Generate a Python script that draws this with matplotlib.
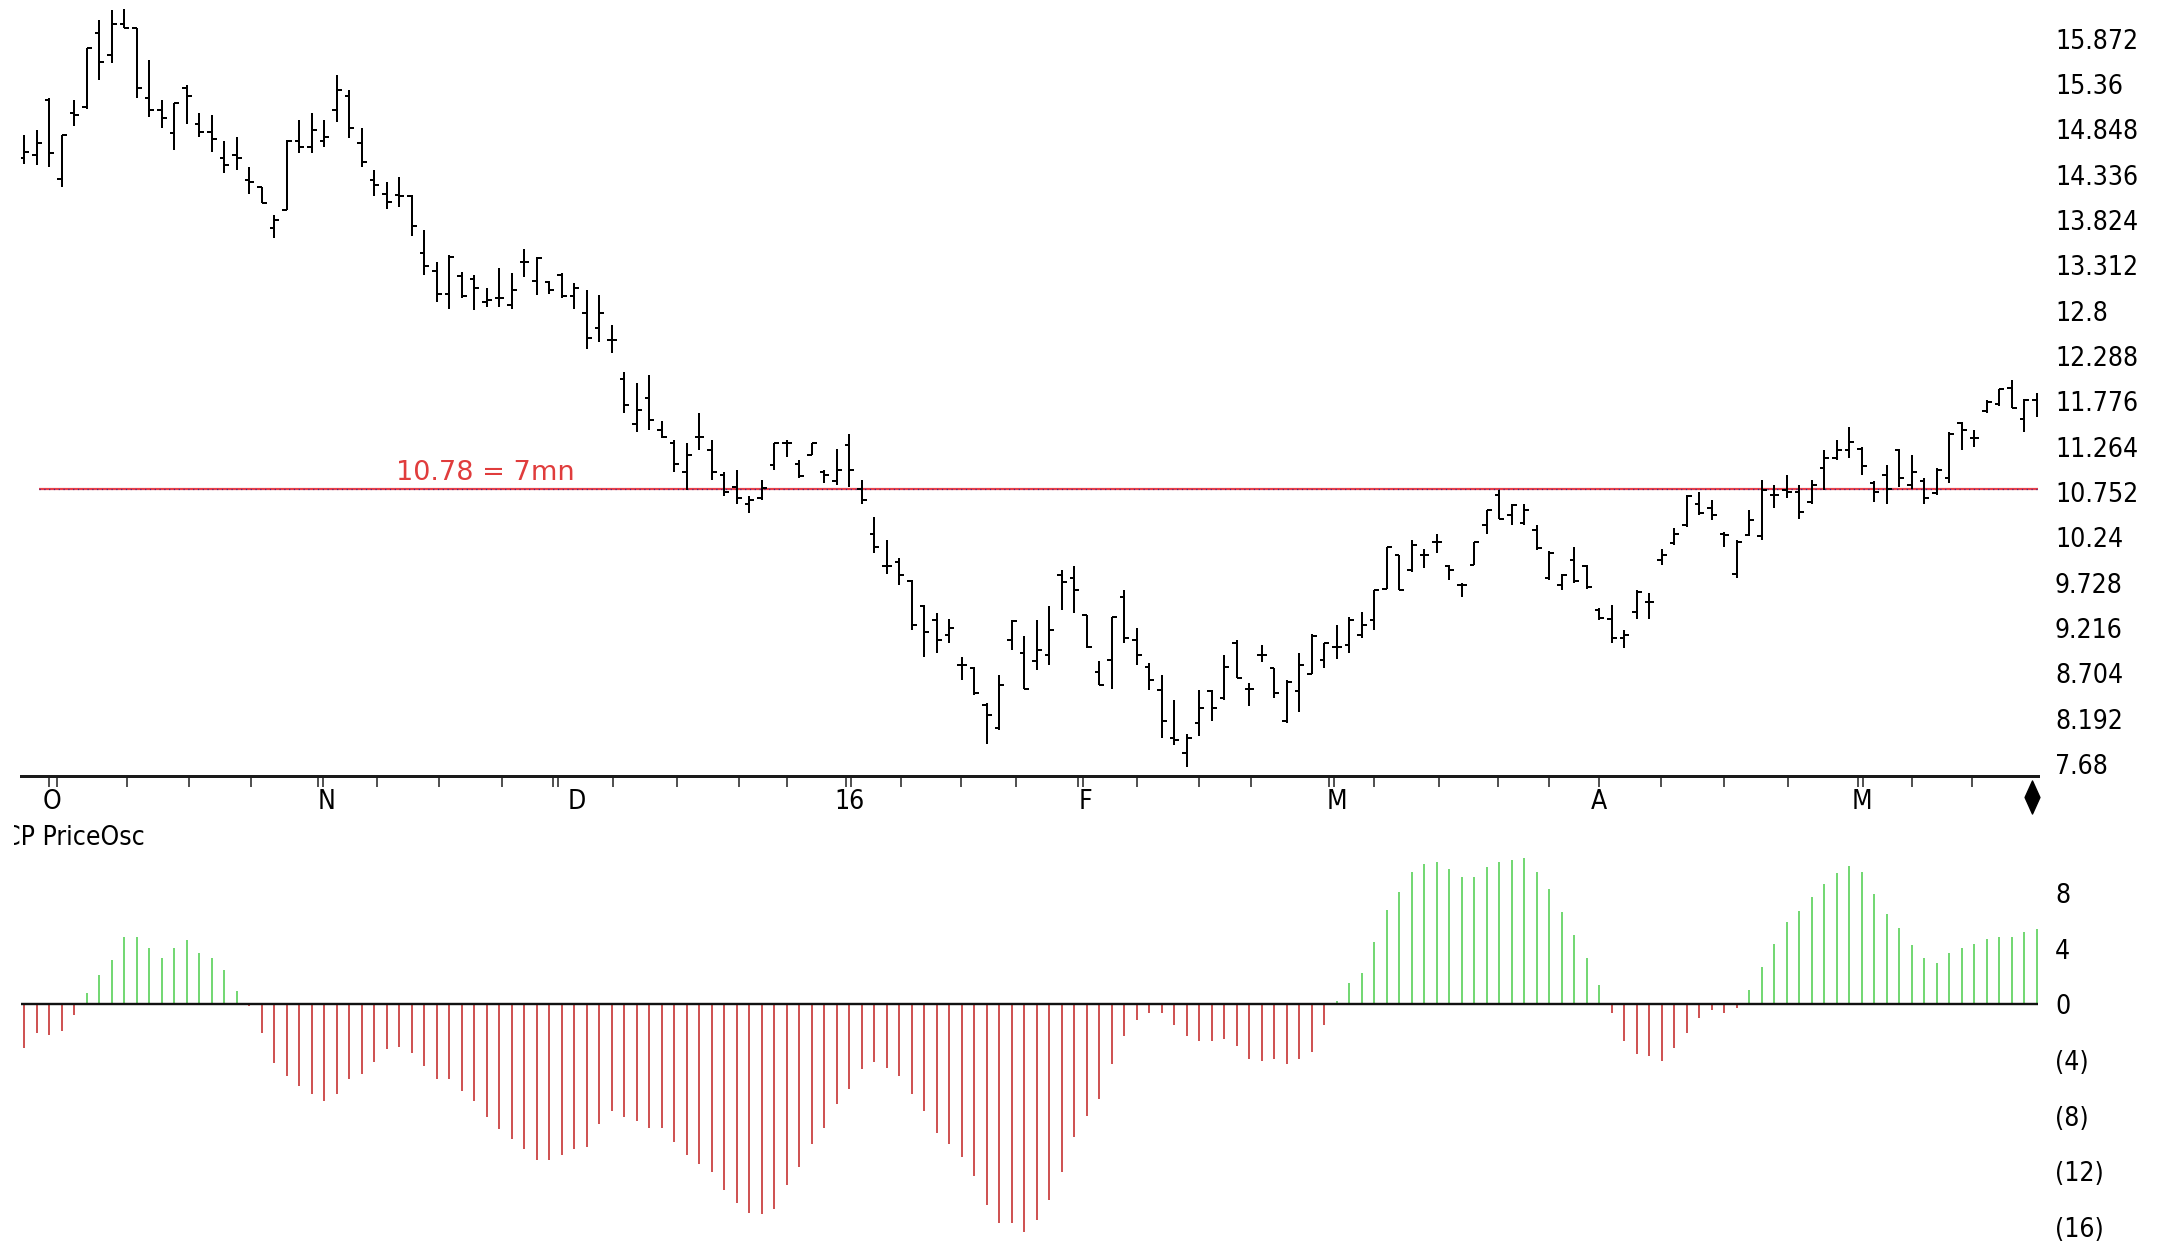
import numpy as np
import matplotlib
matplotlib.use("Agg")
import matplotlib.pyplot as plt
from matplotlib import font_manager as fm
from matplotlib.collections import LineCollection
from matplotlib.transforms import Bbox, TransformedBbox, blended_transform_factory
from matplotlib.path import Path

# ---------------- data ----------------
opens = [14.52, 14.56, 15.18, 14.29, 15.03, 15.10, 15.93, 15.69, 16.04, 15.99,
         15.20, 15.06, 14.80, 15.31, 14.91, 14.82, 14.52, 14.56, 14.27, 14.20,
         13.73, 13.94, 14.71, 14.65, 14.71, 15.07, 15.22, 14.69, 14.27, 14.12,
         14.10, 14.09, 13.45, 13.25, 12.99, 13.19, 13.16, 12.90, 12.94, 12.86,
         13.35, 13.13, 13.12, 13.20, 12.96, 12.77, 12.60, 12.47, 12.03, 11.52,
         11.81, 11.45, 11.30, 10.98, 11.37, 11.22, 10.94, 10.81, 10.62, 10.68,
         11.05, 11.30, 11.07, 11.17, 10.98, 10.87, 11.28, 10.79, 10.28, 9.91,
         9.96, 9.74, 9.46, 9.31, 9.14, 8.80, 8.76, 8.35, 8.08, 9.08,
         8.93, 8.84, 8.91, 9.81, 9.78, 9.36, 8.72, 8.85, 9.57, 9.08,
         8.78, 8.51, 7.97, 7.80, 8.14, 8.50, 8.42, 9.04, 8.53, 8.91,
         8.76, 8.17, 8.50, 8.70, 8.85, 9.00, 9.02, 9.14, 9.31, 9.66,
         10.04, 9.87, 10.04, 10.19, 9.91, 9.70, 9.93, 10.38, 10.72, 10.49,
         10.40, 10.32, 9.78, 9.70, 9.98, 9.91, 9.42, 9.32, 9.10, 9.40,
         9.51, 9.98, 10.17, 10.38, 10.62, 10.57, 10.28, 9.83, 10.27, 10.25,
         10.72, 10.77, 10.75, 10.64, 11.02, 11.13, 11.23, 11.24, 10.85, 10.94,
         11.23, 10.83, 10.87, 10.74, 10.91, 11.53, 11.36, 11.66, 11.75, 11.92,
         11.58, 11.79]
highs = [14.78, 14.84, 15.20, 14.78, 15.18, 15.76, 16.08, 16.19, 16.21, 15.99,
         15.63, 15.18, 15.14, 15.35, 15.03, 15.01, 14.71, 14.76, 14.42, 14.20,
         13.88, 14.73, 14.95, 15.03, 14.95, 15.46, 15.29, 14.86, 14.39, 14.25,
         14.31, 14.11, 13.71, 13.35, 13.43, 13.24, 13.20, 13.05, 13.28, 13.22,
         13.50, 13.41, 13.13, 13.22, 13.11, 13.03, 12.97, 12.64, 12.11, 11.98,
         12.07, 11.55, 11.34, 11.30, 11.64, 11.34, 10.98, 11.00, 10.71, 10.89,
         11.30, 11.34, 11.11, 11.30, 11.00, 11.24, 11.41, 10.89, 10.47, 10.21,
         10.00, 9.76, 9.48, 9.38, 9.32, 8.89, 8.78, 8.37, 8.68, 9.31,
         9.12, 9.31, 9.46, 9.87, 9.91, 9.36, 8.84, 9.34, 9.64, 9.21,
         8.82, 8.68, 8.40, 8.02, 8.51, 8.51, 8.91, 9.08, 8.59, 9.02,
         8.76, 8.63, 8.93, 9.15, 9.04, 9.25, 9.34, 9.40, 9.64, 10.13,
         10.04, 10.21, 10.11, 10.28, 9.93, 9.72, 10.19, 10.55, 10.77, 10.62,
         10.62, 10.38, 10.08, 9.83, 10.13, 9.93, 9.44, 9.47, 9.19, 9.64,
         9.61, 10.11, 10.34, 10.72, 10.75, 10.66, 10.30, 10.21, 10.55, 10.89,
         10.83, 10.94, 10.83, 10.89, 11.23, 11.34, 11.49, 11.26, 10.87, 11.06,
         11.24, 11.17, 10.91, 11.02, 11.43, 11.54, 11.45, 11.79, 11.91, 12.01,
         11.80, 11.87]
lows = [14.46, 14.44, 14.42, 14.20, 14.88, 15.08, 15.40, 15.59, 15.99, 15.20,
        14.99, 14.86, 14.61, 14.91, 14.76, 14.59, 14.35, 14.39, 14.12, 14.01,
        13.62, 13.94, 14.58, 14.58, 14.65, 14.93, 14.75, 14.42, 14.09, 13.95,
        13.97, 13.64, 13.20, 12.90, 12.82, 12.94, 12.81, 12.84, 12.84, 12.82,
        13.18, 12.98, 12.99, 12.94, 12.82, 12.37, 12.45, 12.32, 11.64, 11.43,
        11.45, 11.36, 10.98, 10.77, 11.22, 10.89, 10.71, 10.62, 10.51, 10.66,
        11.00, 11.15, 10.91, 11.17, 10.85, 10.83, 10.81, 10.62, 10.06, 9.83,
        9.70, 9.19, 8.89, 8.93, 9.04, 8.63, 8.46, 7.91, 8.06, 8.97,
        8.53, 8.74, 8.80, 9.42, 9.38, 8.99, 8.57, 8.53, 9.04, 8.80,
        8.51, 7.97, 7.89, 7.65, 7.99, 8.17, 8.40, 8.65, 8.33, 8.83,
        8.42, 8.14, 8.27, 8.70, 8.76, 8.87, 8.93, 9.10, 9.19, 9.66,
        9.64, 9.85, 9.89, 10.06, 9.76, 9.57, 9.93, 10.28, 10.45, 10.38,
        10.38, 10.10, 9.76, 9.64, 9.72, 9.66, 9.31, 9.04, 8.99, 9.32,
        9.32, 9.93, 10.15, 10.36, 10.49, 10.43, 10.13, 9.78, 10.25, 10.21,
        10.57, 10.68, 10.45, 10.62, 10.77, 11.11, 11.13, 10.94, 10.64, 10.62,
        10.81, 10.79, 10.62, 10.72, 10.85, 11.23, 11.26, 11.64, 11.72, 11.70,
        11.43, 11.60]
closes = [14.59, 14.69, 14.58, 14.78, 15.01, 15.76, 15.61, 16.04, 15.99, 15.31,
          15.06, 14.97, 15.14, 15.22, 14.82, 14.74, 14.44, 14.52, 14.25, 14.01,
          13.82, 14.71, 14.65, 14.84, 14.76, 15.29, 14.86, 14.48, 14.22, 14.03,
          14.09, 13.75, 13.30, 12.99, 13.41, 12.96, 13.05, 12.92, 12.94, 13.03,
          13.35, 13.39, 13.03, 12.96, 13.05, 12.49, 12.77, 12.47, 11.73, 11.68,
          11.56, 11.37, 11.07, 11.17, 11.37, 10.98, 10.75, 10.68, 10.66, 10.80,
          11.30, 11.30, 10.93, 11.30, 10.94, 11.00, 11.00, 10.66, 10.13, 9.91,
          9.81, 9.25, 9.17, 9.08, 9.21, 8.80, 8.48, 8.23, 8.57, 9.29,
          8.53, 8.97, 9.19, 9.73, 9.64, 9.00, 8.57, 9.34, 9.10, 8.91,
          8.63, 8.17, 7.95, 7.97, 8.31, 8.31, 8.78, 8.65, 8.53, 8.91,
          8.48, 8.61, 8.80, 9.12, 9.04, 9.00, 9.31, 9.25, 9.64, 10.13,
          9.64, 10.15, 10.04, 10.19, 9.87, 9.70, 10.19, 10.55, 10.45, 10.60,
          10.55, 10.12, 10.06, 9.81, 9.74, 9.68, 9.33, 9.10, 9.14, 9.62,
          9.51, 10.04, 10.28, 10.70, 10.51, 10.49, 10.27, 10.19, 10.43, 10.77,
          10.72, 10.75, 10.53, 10.83, 11.13, 11.23, 11.32, 11.04, 10.75, 10.79,
          10.91, 10.98, 10.68, 11.00, 11.41, 11.45, 11.36, 11.77, 11.91, 11.70,
          11.79, 11.75]

osc = [-3.15, -2.06, -2.23, -1.89, -0.78, 0.80, 2.10, 3.15, 4.80, 4.80,
       4.05, 3.35, 4.07, 4.63, 3.70, 3.35, 2.45, 0.97, -0.12, -2.06,
       -4.24, -5.16, -5.90, -6.42, -6.95, -6.42, -5.38, -4.97, -4.12, -3.20,
       -3.03, -3.50, -4.44, -5.38, -5.38, -6.25, -6.95, -8.07, -8.97, -9.70,
       -10.42, -11.15, -11.15, -10.79, -10.38, -10.25, -8.60, -7.68, -8.07, -8.41,
       -8.85, -8.85, -9.87, -10.79, -11.50, -12.05, -13.33, -14.30, -14.96, -15.08,
       -14.67, -12.97, -11.70, -10.06, -8.85, -7.15, -6.08, -4.65, -4.15, -4.60,
       -5.16, -6.42, -7.68, -9.21, -10.06, -10.98, -12.36, -14.38, -15.68, -15.68,
       -16.36, -15.50, -14.06, -12.05, -9.50, -8.03, -6.80, -4.25, -2.25, -1.16,
       -0.65, -0.65, -1.50, -2.25, -2.67, -2.62, -2.47, -2.98, -3.93, -4.08,
       -3.93, -4.25, -3.93, -3.40, -1.50, 0.24, 1.53, 2.25, 4.44, 6.80,
       8.05, 9.50, 10.06, 10.25, 9.70, 9.17, 9.17, 9.87, 10.25, 10.35,
       10.50, 9.50, 8.25, 6.60, 4.97, 3.35, 1.38, -0.65, -2.62, -3.59,
       -3.71, -4.08, -3.15, -2.06, -0.97, -0.41, -0.60, -0.24, 1.00, 2.67,
       4.30, 5.90, 6.67, 7.70, 8.67, 9.40, 9.90, 9.50, 7.90, 6.47,
       5.50, 4.24, 3.35, 2.98, 3.70, 4.07, 4.30, 4.66, 4.80, 4.80,
       5.17, 5.38]

price_ticks = [15.872, 15.36, 14.848, 14.336, 13.824, 13.312, 12.8, 12.288,
               11.776, 11.264, 10.752, 10.24, 9.728, 9.216, 8.704, 8.192, 7.68]
price_tick_labels = ["15.872", "15.36", "14.848", "14.336", "13.824", "13.312",
                     "12.8", "12.288", "11.776", "11.264", "10.752", "10.24",
                     "9.728", "9.216", "8.704", "8.192", "7.68"]
osc_ticks = [8, 4, 0, -4, -8, -12, -16]
osc_tick_labels = ["8", "4", "0", "(4)", "(8)", "(12)", "(16)"]

month_labels = ["O", "N", "D", "16", "F", "M", "A", "M"]
month_label_pos = [2.25, 24.2, 44.2, 66.0, 84.9, 105.0, 126.0, 147.0]
week_tick_pos = [2.0, 2.6, 8.2, 13.2, 18.1, 23.5, 23.9, 28.2, 33.2, 38.2,
                 42.3, 42.7, 47.1, 52.2, 57.2, 61.0, 65.7, 66.1, 70.1, 74.9,
                 79.3, 84.3, 84.7, 89.0, 94.0, 98.1, 104.4, 104.8, 108.0, 113.2,
                 117.9, 122.0, 126.0, 130.9, 136.0, 141.1, 146.7, 147.1, 151.0,
                 155.8]

level_value = 10.78
level_label = "10.78 = 7mn"
panel_title = "CP PriceOsc"

# ---------------- fonts ----------------
def _has_condensed():
    for f in fm.fontManager.ttflist:
        if f.name == "DejaVu Sans" and str(f.stretch) in ("condensed", "semi-condensed", "500", "600"):
            if "Condensed" in f.fname:
                return True
        if f.name == "DejaVu Sans" and "Condensed" in f.fname:
            return True
    return False

if _has_condensed():
    LABEL_FONT = dict(family="DejaVu Sans", stretch="condensed", size=19)
else:
    LABEL_FONT = dict(family="DejaVu Sans", size=17.5)

# ---------------- figure ----------------
W, H = 2166, 1244
fig = plt.figure(figsize=(W / 100, H / 100), dpi=100)
fig.patch.set_facecolor("white")
PX = 0.72  # points per pixel at dpi 100


def px_axes(x0, y0, x1, y1):
    return fig.add_axes([x0 / W, 1 - y1 / H, (x1 - x0) / W, (y1 - y0) / H])


XL = (-0.288, 161.06)
n = len(opens)
idx = np.arange(n)

# ---- price panel ----
ax = px_axes(20.7, 0, 2037.6, 776.3)
ax.set_xlim(*XL)
ax.set_ylim(7.54, 16.307)
ax.set_facecolor("none")
for s in ["top", "left", "right"]:
    ax.spines[s].set_visible(False)
ax.spines["bottom"].set_linewidth(3 * PX)
ax.spines["bottom"].set_color("#1a1a1a")

tw = 0.38
segs = []
for i in range(n):
    segs.append([(i, lows[i]), (i, highs[i])])
    segs.append([(i - tw, opens[i]), (i, opens[i])])
    segs.append([(i, closes[i]), (i + tw, closes[i])])
ax.add_collection(LineCollection(segs, colors="black", linewidths=2 * PX,
                                 capstyle="butt"))

# level line
ax.hlines(level_value, 1.15, XL[1], colors="#e8404a", linewidth=2.2 * PX, zorder=1)
ax.hlines(level_value, 1.15, XL[1], colors="#3a2c8c", linewidth=1.2 * PX,
          linestyles=(0, (1, 3)), zorder=1.1)
ax.text(44.06, 10.965, level_label, color="#e03c3c", fontsize=19.5,
        ha="right", va="center")

# y labels on right
ax.yaxis.tick_right()
ax.set_yticks(price_ticks)
ax.set_yticklabels(price_tick_labels, fontdict=LABEL_FONT)
ax.tick_params(axis="y", length=0, pad=17.4 * PX)

# x ticks
ax.set_xticks(week_tick_pos)
ax.set_xticklabels([])
ax.tick_params(axis="x", direction="out", length=11 * PX, width=1.5 * PX,
               color="#1a1a1a")
tb = blended_transform_factory(ax.transData, ax.transAxes)
for lab, pos in zip(month_labels, month_label_pos):
    ax.text(pos, -0.0325, lab, transform=tb, ha="center", va="center",
            fontdict=LABEL_FONT)

# end diamond marker
diamond = Path([(0, 1), (0.45, 0), (0, -1), (-0.45, 0), (0, 1)],
               [Path.MOVETO, Path.LINETO, Path.LINETO, Path.LINETO, Path.CLOSEPOLY])
ax.plot([n - 1 - 0.4], [-0.0267], marker=diamond, markersize=33 * PX,
        color="black", transform=tb, clip_on=False)

# ---- oscillator panel ----
ax2 = px_axes(20.7, 850, 2037.6, 1244)
ax2.set_xlim(*XL)
ax2.set_ylim(-17.21, 11.08)
ax2.set_facecolor("none")
for s in ax2.spines.values():
    s.set_visible(False)
ovals = np.array(osc)
cols = ["#52cf52" if v >= 0 else "#c42a2a" for v in ovals]
ax2.vlines(idx, 0, ovals, colors=cols, linewidth=1.6 * PX)
ax2.axhline(0, color="#111111", linewidth=2.4 * PX)
ax2.yaxis.tick_right()
ax2.set_yticks(osc_ticks)
ax2.set_yticklabels(osc_tick_labels, fontdict=LABEL_FONT)
ax2.tick_params(axis="y", length=0, pad=17.4 * PX)
ax2.set_xticks([])

t = fig.text(4 / W, 1 - 838 / H, panel_title, ha="left", va="center",
             fontdict=LABEL_FONT)
t.set_clip_box(TransformedBbox(Bbox([[14 / W, 0], [1, 1]]), fig.transFigure))
t.set_clip_on(True)

fig.savefig("out.png", dpi=100, facecolor="white")
